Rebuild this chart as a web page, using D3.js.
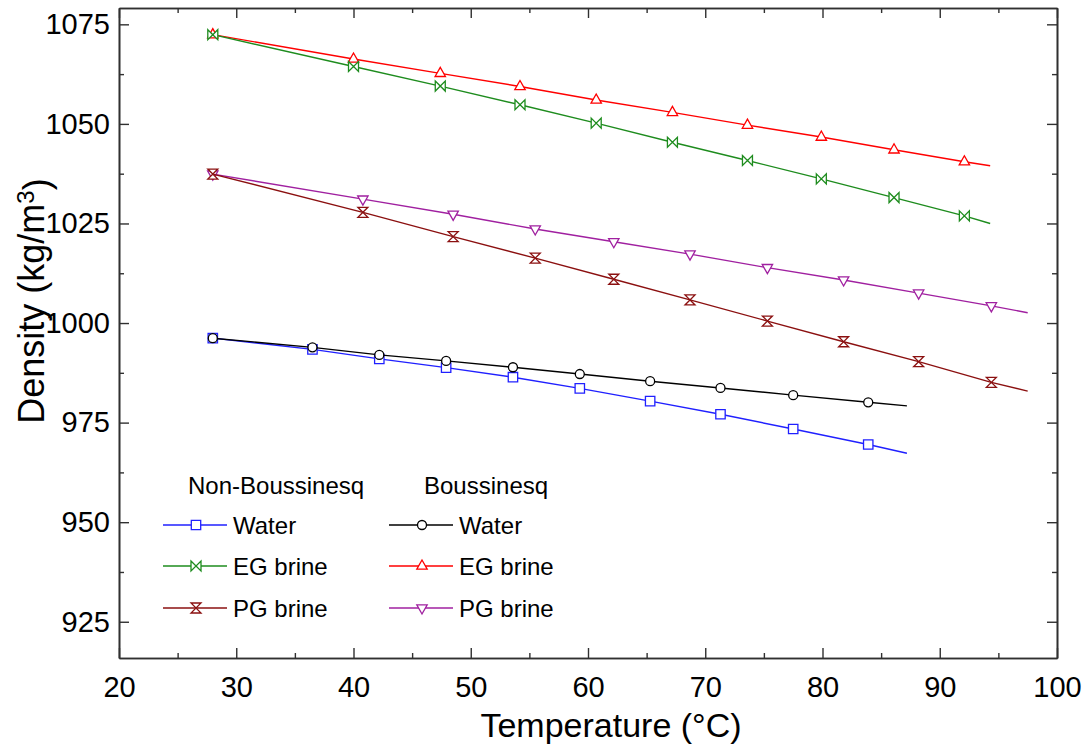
<!DOCTYPE html>
<html>
<head>
<meta charset="utf-8">
<title>Density vs temperature</title>
<script src="https://cdn.jsdelivr.net/npm/d3@7"></script>
<style>
    body { margin: 0; background: #fff; }
    text { font-family: "Liberation Sans", Arial, sans-serif; fill: #000; }
</style>
</head>
<body>
<script>
// temperatures (°C); the last value is where the line ends (no marker)
var waterT = [28.0, 36.5, 42.2, 47.9, 53.6, 59.3, 65.3, 71.3, 77.5, 83.9, 87.2];
var egT    = [28.0, 40.0, 47.4, 54.2, 60.7, 67.2, 73.6, 79.9, 86.1, 92.1, 94.3];
var pgT    = [28.0, 40.8, 48.5, 55.5, 62.2, 68.7, 75.3, 81.8, 88.2, 94.4, 97.5];

// densities (kg/m3)
var waterNB = [996.2, 993.4, 991.0, 988.8, 986.4, 983.6, 980.4, 977.1, 973.4, 969.5, 967.3];
var waterB  = [996.2, 993.9, 992.0, 990.5, 988.9, 987.2, 985.4, 983.7, 981.9, 980.1, 979.2];
var egNB    = [1072.4, 1064.4, 1059.5, 1054.8, 1050.2, 1045.4, 1040.8, 1036.2, 1031.5, 1026.9, 1025.0];
var egB     = [1072.4, 1066.3, 1062.7, 1059.4, 1056.0, 1052.9, 1049.7, 1046.7, 1043.5, 1040.5, 1039.5];
var pgNB    = [1037.4, 1027.8, 1021.7, 1016.3, 1011.0, 1005.8, 1000.5, 995.3, 990.3, 985.1, 982.9];
var pgB     = [1037.4, 1031.1, 1027.3, 1023.6, 1020.4, 1017.3, 1013.9, 1010.8, 1007.5, 1004.3, 1002.6];

var xTicks = [20, 30, 40, 50, 60, 70, 80, 90, 100];
var yTicks = [925, 950, 975, 1000, 1025, 1050, 1075];

// custom marker shapes
function poly(pts) {
    return { draw: function (ctx) {
        ctx.moveTo(pts[0][0], pts[0][1]);
        for (var i = 1; i < pts.length; i++) ctx.lineTo(pts[i][0], pts[i][1]);
        ctx.closePath();
    } };
}
var sym = {
    square: poly([[-4.7, -4.7], [4.7, -4.7], [4.7, 4.7], [-4.7, 4.7]]),
    circle: { draw: function (ctx) { ctx.moveTo(4.5, 0); ctx.arc(0, 0, 4.5, 0, 2 * Math.PI); } },
    up: poly([[0, -6], [5.2, 3.2], [-5.2, 3.2]]),
    down: poly([[0, 6], [5.2, -3.2], [-5.2, -3.2]]),
    bowtie: poly([[-5, -5], [5, 5], [5, -5], [-5, 5]]),
    hourglass: poly([[-5, -5], [5, -5], [-5, 5], [5, 5]])
};

// drawing order: later ones sit on top
var series = [
    { name: "EG brine", col: 1, row: 1, t: egT, d: egB, color: "#ff0000", shape: sym.up },
    { name: "EG brine", col: 0, row: 1, t: egT, d: egNB, color: "#1e8c1e", shape: sym.bowtie },
    { name: "PG brine", col: 1, row: 2, t: pgT, d: pgB, color: "#a020a0", shape: sym.down },
    { name: "PG brine", col: 0, row: 2, t: pgT, d: pgNB, color: "#8b1010", shape: sym.hourglass },
    { name: "Water", col: 0, row: 0, t: waterT, d: waterNB, color: "#2020ff", shape: sym.square },
    { name: "Water", col: 1, row: 0, t: waterT, d: waterB, color: "#000000", shape: sym.circle }
];

var W = 1088, H = 748;
var pLeft = 119, pTop = 8, pRight = 1057, pBottom = 658;

var svg = d3.select("body").append("svg").attr("width", W).attr("height", H);

var x = d3.scaleLinear().domain([20, 100]).range([pLeft, pRight]);
var y = d3.scaleLinear().domain([915.9, 1079.1]).range([pBottom, pTop]);

var frameColor = "#303030";

function styleAxis(g) {
    g.select(".domain").attr("stroke", frameColor).attr("stroke-width", 1.6);
    g.selectAll(".tick line").attr("stroke", frameColor).attr("stroke-width", 1.4);
    g.selectAll("text").style("font-size", "29px").attr("fill", "#000");
}

var xMinor = d3.range(25, 100, 10);
var yMinor = d3.range(937.5, 1079, 25);

// bottom
svg.append("g").attr("transform", "translate(0," + pBottom + ")")
    .call(d3.axisBottom(x).tickValues(xTicks).tickSize(-10).tickSizeOuter(0).tickPadding(18).tickFormat(d3.format("d")))
    .call(styleAxis);
svg.append("g").attr("transform", "translate(0," + pBottom + ")")
    .call(d3.axisBottom(x).tickValues(xMinor).tickSize(-5).tickSizeOuter(0).tickFormat(""))
    .call(styleAxis);
// top
svg.append("g").attr("transform", "translate(0," + pTop + ")")
    .call(d3.axisTop(x).tickValues(xTicks).tickSize(-10).tickSizeOuter(0).tickFormat(""))
    .call(styleAxis);
svg.append("g").attr("transform", "translate(0," + pTop + ")")
    .call(d3.axisTop(x).tickValues(xMinor).tickSize(-5).tickSizeOuter(0).tickFormat(""))
    .call(styleAxis);
// left
svg.append("g").attr("transform", "translate(" + pLeft + ",0)")
    .call(d3.axisLeft(y).tickValues(yTicks).tickSize(-10).tickSizeOuter(0).tickPadding(9).tickFormat(d3.format("d")))
    .call(styleAxis);
svg.append("g").attr("transform", "translate(" + pLeft + ",0)")
    .call(d3.axisLeft(y).tickValues(yMinor).tickSize(-5).tickSizeOuter(0).tickFormat(""))
    .call(styleAxis);
// right
svg.append("g").attr("transform", "translate(" + pRight + ",0)")
    .call(d3.axisRight(y).tickValues(yTicks).tickSize(-10).tickSizeOuter(0).tickFormat(""))
    .call(styleAxis);
svg.append("g").attr("transform", "translate(" + pRight + ",0)")
    .call(d3.axisRight(y).tickValues(yMinor).tickSize(-5).tickSizeOuter(0).tickFormat(""))
    .call(styleAxis);

// axis titles
svg.append("text")
    .attr("x", 611).attr("y", 737)
    .attr("text-anchor", "middle")
    .style("font-size", "34px")
    .text("Temperature (°C)");

var yt = svg.append("text")
    .attr("transform", "translate(44,301) rotate(-90)")
    .attr("text-anchor", "middle")
    .style("font-size", "36px");
yt.append("tspan").text("Density (kg/m");
yt.append("tspan").attr("dy", "-0.42em").style("font-size", "24px").text("3");
yt.append("tspan").attr("dy", "0.42em").text(")");

// lines and markers
var line = d3.line().x(function (p) { return x(p[0]); }).y(function (p) { return y(p[1]); });

series.forEach(function (s) {
    var pts = d3.zip(s.t, s.d);
    svg.append("path")
        .datum(pts)
        .attr("d", line)
        .attr("fill", "none")
        .attr("stroke", s.color)
        .attr("stroke-width", 1.4);
    svg.selectAll(null)
        .data(pts.slice(0, -1))
        .enter()
        .append("path")
        .attr("d", d3.symbol().type(s.shape))
        .attr("transform", function (p) { return "translate(" + x(p[0]) + "," + y(p[1]) + ")"; })
        .attr("fill", "#fff")
        .attr("stroke", s.color)
        .attr("stroke-width", 1.3);
});

// legend
var colX = [163, 389];
var rowY = [525, 566, 608];
var headers = ["Non-Boussinesq", "Boussinesq"];
var headerX = [188, 424];

headers.forEach(function (h, i) {
    svg.append("text").attr("x", headerX[i]).attr("y", 494)
        .style("font-size", "24px").text(h);
});

series.forEach(function (s) {
    var lx = colX[s.col], ly = rowY[s.row];
    var g = svg.append("g");
    g.append("line").attr("x1", lx).attr("x2", lx + 64).attr("y1", ly).attr("y2", ly)
        .attr("stroke", s.color).attr("stroke-width", 1.4);
    g.append("path").attr("d", d3.symbol().type(s.shape))
        .attr("transform", "translate(" + (lx + 33) + "," + ly + ")")
        .attr("fill", "#fff").attr("stroke", s.color).attr("stroke-width", 1.3);
    g.append("text").attr("x", lx + 70).attr("y", ly + 9)
        .style("font-size", "24px").text(s.name);
});
</script>
</body>
</html>
